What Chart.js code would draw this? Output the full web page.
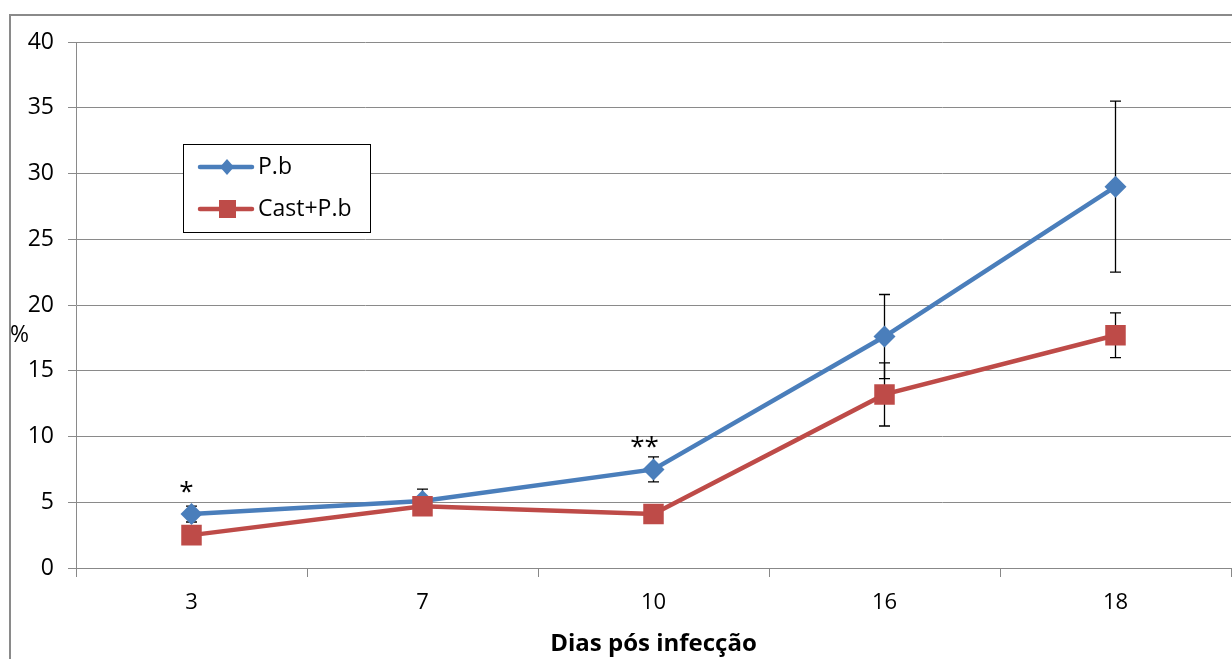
<!DOCTYPE html>
<html>
<head>
<meta charset="utf-8">
<script src="https://cdn.jsdelivr.net/npm/chart.js@4/dist/chart.umd.min.js"></script>
<style>
  html, body { margin: 0; padding: 0; background: #fff; }
  #wrap { position: relative; width: 1232px; height: 659px; }
</style>
</head>
<body>
<div id="wrap"><canvas id="chart" width="1232" height="659"></canvas></div>
<script>
// dados
const dias = ['3', '7', '10', '16', '18'];
const pb = [4.1, 5.1, 7.5, 17.6, 29.0];
const pbErr = [0.6, 0.9, 0.95, 3.2, 6.5];
const castPb = [2.5, 4.7, 4.1, 13.2, 17.7];
const castErr = [0.3, 0.3, 0.3, 2.4, 1.7];
const signif = ['*', '', '**', '', ''];

const AZUL = '#4A7EBB';
const VERMELHO = '#BE4B48';
const FONTE = '"Open Sans", Lato, sans-serif';

// moldura cinza externa + "%"
const moldura = {
    id: 'moldura',
    beforeDraw(chart) {
        const ctx = chart.ctx;
        ctx.save();
        ctx.fillStyle = '#fff';
        ctx.fillRect(0, 0, chart.width, chart.height);
        ctx.strokeStyle = '#8a8a8a';
        ctx.lineWidth = 2;
        ctx.strokeRect(10, 15, 1300, 700);
        ctx.restore();
    },
    afterDraw(chart) {
        const ctx = chart.ctx;
        ctx.save();
        ctx.fillStyle = '#000';
        ctx.font = '23px ' + FONTE;
        ctx.textAlign = 'left';
        ctx.textBaseline = 'middle';
        ctx.fillText('%', 10, 335);
        ctx.restore();
    }
};

// barras de erro desenhadas pelas escalas
const barrasErro = {
    id: 'barrasErro',
    beforeDatasetsDraw(chart) {
        const ctx = chart.ctx;
        const x = chart.scales.x, y = chart.scales.y;
        const series = [[pb, pbErr], [castPb, castErr]];
        ctx.save();
        ctx.strokeStyle = '#000';
        ctx.lineWidth = 1.3;
        series.forEach(([vals, errs]) => {
            vals.forEach((v, i) => {
                const px = x.getPixelForValue(i);
                const top = y.getPixelForValue(v + errs[i]);
                const bot = y.getPixelForValue(v - errs[i]);
                ctx.beginPath();
                ctx.moveTo(px, top); ctx.lineTo(px, bot);
                ctx.moveTo(px - 5.5, top); ctx.lineTo(px + 5.5, top);
                ctx.moveTo(px - 5.5, bot); ctx.lineTo(px + 5.5, bot);
                ctx.stroke();
            });
        });
        ctx.restore();
    },
    afterDatasetsDraw(chart) {
        const ctx = chart.ctx;
        const x = chart.scales.x, y = chart.scales.y;
        ctx.save();
        ctx.fillStyle = '#000';
        ctx.font = '26px ' + FONTE;
        ctx.textAlign = 'center';
        ctx.textBaseline = 'alphabetic';
        signif.forEach((s, i) => {
            if (!s) return;
            const px = x.getPixelForValue(i);
            const py = y.getPixelForValue(pb[i]);
            ctx.fillText(s, px - 5 - 4 * (s.length - 1), py - 14);
        });
        ctx.restore();
    }
};

// legenda dentro da área do gráfico
const legenda = {
    id: 'legenda',
    afterDraw(chart) {
        const ctx = chart.ctx;
        ctx.save();
        ctx.fillStyle = '#fff';
        ctx.fillRect(183, 144, 187, 88);
        ctx.strokeStyle = '#000';
        ctx.lineWidth = 1;
        ctx.strokeRect(183.5, 144.5, 187, 88);
        const itens = [
            { label: 'P.b', cor: AZUL, forma: 'diamante', y: 167 },
            { label: 'Cast+P.b', cor: VERMELHO, forma: 'quadrado', y: 209 }
        ];
        itens.forEach(it => {
            ctx.strokeStyle = it.cor;
            ctx.fillStyle = it.cor;
            ctx.lineWidth = 4.5;
            ctx.lineCap = 'round';
            ctx.beginPath();
            ctx.moveTo(200, it.y); ctx.lineTo(252, it.y);
            ctx.stroke();
            ctx.beginPath();
            if (it.forma === 'diamante') {
                ctx.moveTo(227, it.y - 8); ctx.lineTo(234, it.y);
                ctx.lineTo(227, it.y + 8); ctx.lineTo(220, it.y);
                ctx.closePath();
            } else {
                ctx.rect(219, it.y - 9, 17, 18);
            }
            ctx.fill();
            ctx.fillStyle = '#000';
            ctx.font = '23px ' + FONTE;
            ctx.textAlign = 'left';
            ctx.textBaseline = 'middle';
            ctx.fillText(it.label, 258, it.y);
        });
        ctx.restore();
    }
};

new Chart(document.getElementById('chart').getContext('2d'), {
    type: 'line',
    data: {
        labels: dias,
        datasets: [
            {
                label: 'P.b',
                data: pb,
                borderColor: AZUL,
                backgroundColor: AZUL,
                borderWidth: 4.5,
                pointStyle: 'rectRot',
                pointRadius: 11,
                pointBorderWidth: 0,
                order: 2
            },
            {
                label: 'Cast+P.b',
                data: castPb,
                borderColor: VERMELHO,
                backgroundColor: VERMELHO,
                borderWidth: 4.5,
                pointStyle: 'rect',
                pointRadius: 14.5,
                pointBorderWidth: 0,
                order: 1
            }
        ]
    },
    options: {
        responsive: false,
        animation: false,
        layout: { autoPadding: false, padding: { left: 0, right: 1, top: 42, bottom: 0 } },
        plugins: {
            legend: { display: false },
            tooltip: { enabled: false }
        },
        scales: {
            x: {
                offset: true,
                afterFit(scale) {
                    scale.height = 91;
                    scale.paddingLeft = 0;
                    scale.paddingRight = 0;
                },
                grid: { offset: true, drawOnChartArea: false, tickLength: 9, color: '#888' },
                border: { color: '#888', width: 1 },
                ticks: { color: '#000', font: { family: FONTE, size: 22 }, padding: 13 },
                title: {
                    display: true,
                    text: 'Dias pós infecção',
                    color: '#000',
                    font: { family: FONTE, size: 24, weight: 'bold' },
                    padding: { top: 4, bottom: 0 }
                }
            },
            y: {
                min: 0,
                max: 40,
                afterFit(scale) { scale.width = 76; },
                grid: { color: '#8a8a8a', tickLength: 8 },
                border: { color: '#8a8a8a', width: 1 },
                ticks: { stepSize: 5, color: '#000', font: { family: FONTE, size: 23 }, padding: 14 }
            }
        }
    },
    plugins: [moldura, barrasErro, legenda]
});
</script>
</body>
</html>
